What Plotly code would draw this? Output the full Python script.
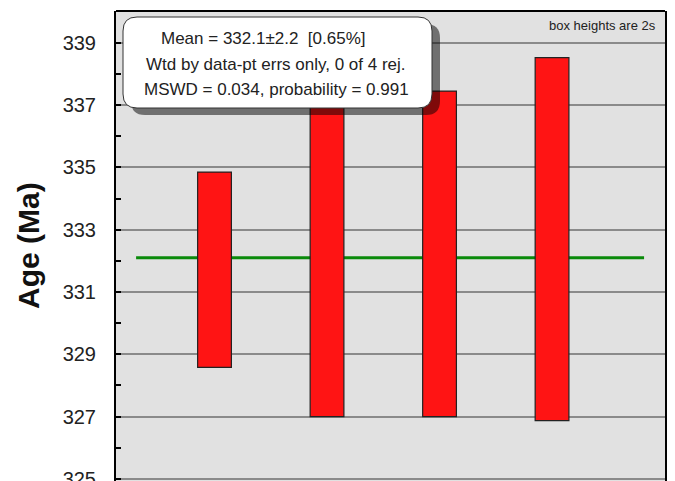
import plotly.graph_objects as go

# ---- data ----
analyses = [1, 2, 3, 4]
box_low = [328.58, 327.00, 327.00, 326.87]
box_high = [334.85, 338.00, 337.45, 338.52]
mean_age = 332.1
y_ticks = [325, 327, 329, 331, 333, 335, 337, 339]
stats_lines = [
    "Mean = 332.1±2.2  [0.65%]",
    "Wtd by data-pt errs only, 0 of 4 rej.",
    "MSWD = 0.034, probability = 0.991",
]
note_text = "box heights are 2s"
y_title = "Age (Ma)"

# ---- layout geometry (pixels) ----
W, H = 675, 481
ML, MR, MT, MB = 116, 10, 11, 0
PW, PH = W - ML - MR, H - MT - MB


def px(x):
    return (x - ML) / PW


def py(y):
    return (H - MB - y) / PH


def rounded(x0, y0, x1, y1, r):
    L, R, T, B = px(x0), px(x1), py(y0), py(y1)
    rx, ry = r / PW, r / PH
    return (f"M {L+rx},{T} L {R-rx},{T} Q {R},{T} {R},{T-ry} "
            f"L {R},{B+ry} Q {R},{B} {R-rx},{B} L {L+rx},{B} "
            f"Q {L},{B} {L},{B+ry} L {L},{T-ry} Q {L},{T} {L+rx},{T} Z")


heights = [h - l for l, h in zip(box_low, box_high)]

fig = go.Figure()
fig.add_trace(go.Bar(
    x=analyses, y=heights, base=box_low, width=0.30,
    marker=dict(color="#ff1414", line=dict(color="#222222", width=1.2)),
    showlegend=False, hoverinfo="skip",
))

font = "Liberation Sans, Arial, sans-serif"

shapes = [
    # mean line
    dict(type="line", xref="x", yref="y", x0=0.303, x1=4.818,
         y0=mean_age, y1=mean_age, line=dict(color="#0a8a0a", width=3),
         layer="between"),
    # top border
    dict(type="line", xref="paper", yref="paper", x0=0, x1=1, y0=1, y1=1,
         line=dict(color="black", width=2), layer="above"),
    # shadow
    dict(type="path", xref="paper", yref="paper",
         path=rounded(131, 24, 440, 115, 14),
         fillcolor="rgba(0,0,0,0.5)", line=dict(width=0), layer="above"),
    # stats box
    dict(type="path", xref="paper", yref="paper",
         path=rounded(123, 17, 432, 108, 14),
         fillcolor="white", line=dict(color="#333333", width=1), layer="above"),
]

annotations = []
line_pos = [(263, 39), (276, 64.5), (276.5, 89)]
for txt, (xc, yc) in zip(stats_lines, line_pos):
    annotations.append(dict(
        text=txt, xref="paper", yref="paper", x=px(xc), y=py(yc),
        xanchor="center", yanchor="middle", showarrow=False,
        font=dict(family=font, size=17, color="#222222")))
annotations.append(dict(
    text=note_text, xref="paper", yref="paper", x=px(658), y=py(25),
    xanchor="right", yanchor="middle", showarrow=False,
    font=dict(family=font, size=13, color="#222222")))
annotations.append(dict(
    text=f"<b>{y_title}</b>", xref="paper", yref="paper", x=px(28), y=py(246),
    xanchor="center", yanchor="middle", textangle=-90, showarrow=False,
    font=dict(family=font, size=30, color="#111111")))

fig.update_layout(
    width=W, height=H,
    margin=dict(l=ML, r=MR, t=MT, b=MB, pad=0, autoexpand=False),
    paper_bgcolor="white", plot_bgcolor="#e1e1e1",
    shapes=shapes, annotations=annotations,
    xaxis=dict(range=[0.1244, 5.004], showgrid=False, zeroline=False,
               showticklabels=False, ticks="", showline=False, fixedrange=True,
               automargin=False),
    yaxis=dict(range=[324.93, 340.02], tickvals=y_ticks,
               ticktext=[str(v) for v in y_ticks], automargin=False,
               showgrid=True, gridcolor="#8a8a8a", gridwidth=1.5,
               zeroline=False, showline=True, linecolor="black", linewidth=2,
               mirror=True, ticks="inside", ticklen=5, tickcolor="black",
               tickwidth=1.5, ticklabelstandoff=14, ticklabeloverflow="allow",
               minor=dict(tickvals=[326, 328, 330, 332, 334, 336, 338, 340],
                          ticks="inside", ticklen=5, tickcolor="black",
                          tickwidth=1.5, showgrid=False),
               tickfont=dict(family=font, size=20, color="#222222")),
)

fig.write_html("out.html")
